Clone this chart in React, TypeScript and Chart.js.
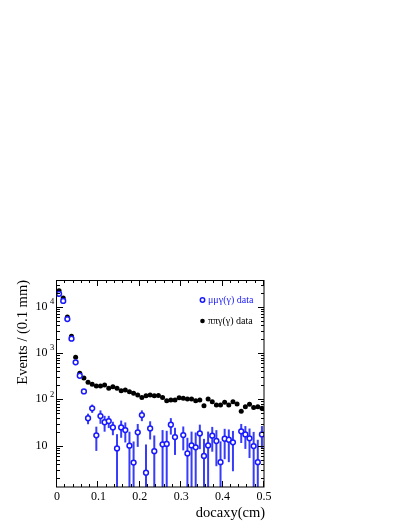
import { useEffect, useRef } from "react";
import { Chart, registerables } from "chart.js";

Chart.register(...registerables);

// bin centres (cm), 50 bins of 0.01 cm
const binCenters = [
  0.005, 0.015, 0.025, 0.035, 0.045, 0.055, 0.065, 0.075, 0.085, 0.095,
  0.105, 0.115, 0.125, 0.135, 0.145, 0.155, 0.165, 0.175, 0.185, 0.195,
  0.205, 0.215, 0.225, 0.235, 0.245, 0.255, 0.265, 0.275, 0.285, 0.295,
  0.305, 0.315, 0.325, 0.335, 0.345, 0.355, 0.365, 0.375, 0.385, 0.395,
  0.405, 0.415, 0.425, 0.435, 0.445, 0.455, 0.465, 0.475, 0.485, 0.495,
];

// pi pi gamma(gamma) data (black filled)
const pipiEvents = [
  22000, 15400, 6000, 2300, 810, 365, 290, 233, 211, 194,
  194, 204, 173, 187, 173, 153, 159, 146, 135, 124,
  110, 120, 124, 120, 121, 110, 93, 97, 97, 108,
  105, 102, 102, 93, 97, 73, 102, 89, 75, 75,
  86, 75, 89, 79, 55, 69, 78, 67, 69, 64,
];

// mu mu gamma(gamma) data (blue open)
const mumuEvents: (number | null)[] = [
  19000, 13300, 5400, 2040, 630, 323, 148, 39, 64, 16.7,
  43.6, 32, 34, 24.8, 8.7, 24.8, 21.7, 10, 4.3, 19.4,
  45.8, 2.6, 23.6, 7.6, null, 10.7, 10.9, 28.3, 15.3, null,
  16.9, 6.8, 10.1, 9.2, 18.4, 6.0, 10.1, 16.4, 12.6, 4.4,
  14.1, 13.4, 11.8, null, 20.4, 17.5, 14.4, 9.8, 4.4, 17.5,
];

const mumuErrors: (number | null)[] = [
  140, 115, 75, 45, 25, 18, 12, 10, 13, 9,
  14, 12, 10, 8, 9, 10, 10, 10, 8, 10,
  12, 8, 10, 9, null, 11, 10, 11, 9, null,
  9, 8, 10, 10, 10, 8, 10, 9, 9, 8,
  9, 9, 9, null, 9, 9, 9, 10, 9, 9,
];

const xTickValues = [0, 0.1, 0.2, 0.3, 0.4, 0.5];
const xTickLabels = ["0", "0.1", "0.2", "0.3", "0.4", "0.5"];
const yDecades = [10, 100, 1000, 10000];
const yDecadeExponents = ["", "2", "3", "4"];

const legendMumu = "\u03bc\u03bc\u03b3(\u03b3) data";
const legendPipi = "\u03c0\u03c0\u03b3(\u03b3) data";
const xTitle = "docaxy(cm)";
const yTitle = "Events / (0.1 mm)";

const BLUE = "rgb(25,25,255)";
const BLUE_BAR = "rgb(55,60,250)";
const SERIF = '"Liberation Serif", "Times New Roman", serif';

const framePlugin = {
  id: "rootFrame",
  beforeDatasetsDraw(chart: any) {
    const { ctx, chartArea, scales } = chart;
    const xs = scales.x;
    const ys = scales.y;
    ctx.save();
    ctx.beginPath();
    ctx.rect(chartArea.left, chartArea.top, chartArea.right - chartArea.left, chartArea.bottom - chartArea.top);
    ctx.clip();
    ctx.strokeStyle = BLUE_BAR;
    ctx.lineWidth = 2;
    for (let i = 0; i < binCenters.length; i++) {
      const v = mumuEvents[i];
      const e = mumuErrors[i];
      if (v == null || e == null) continue;
      const px = xs.getPixelForValue(binCenters[i]);
      const hi = v + e;
      const lo = v - e;
      const yHi = ys.getPixelForValue(hi);
      const yLo = lo > 0 ? ys.getPixelForValue(lo) : chartArea.bottom + 2;
      ctx.beginPath();
      ctx.moveTo(px, yHi);
      ctx.lineTo(px, yLo);
      ctx.stroke();
    }
    ctx.restore();
  },
  afterDraw(chart: any) {
    const { ctx, chartArea, scales } = chart;
    const xs = scales.x;
    const ys = scales.y;
    const L = chartArea.left, R = chartArea.right, T = chartArea.top, B = chartArea.bottom;
    ctx.save();
    ctx.strokeStyle = "#000";
    ctx.lineWidth = 1;
    ctx.strokeRect(L - 0.5, T + 0.5, R - L + 0.5, B - T - 0.5);

    const major = 6;
    const minor = 3;
    ctx.beginPath();
    // x ticks (major every 0.1, minor every 0.02)
    for (let k = 0; k <= 25; k++) {
      const v = k * 0.02;
      const px = Math.round(xs.getPixelForValue(v)) - 0.5;
      const len = k % 5 === 0 ? major : minor;
      ctx.moveTo(px, B);
      ctx.lineTo(px, B - len);
      ctx.moveTo(px, T);
      ctx.lineTo(px, T + len);
    }
    // y log ticks
    const yMin = ys.min, yMax = ys.max;
    for (let d = 1; d <= 10000; d *= 10) {
      for (let m = 1; m <= 9; m++) {
        const v = d * m;
        if (v < yMin || v > yMax) continue;
        const py = Math.round(ys.getPixelForValue(v)) + 0.5;
        const len = m === 1 ? major : minor;
        ctx.moveTo(L, py);
        ctx.lineTo(L + len, py);
        ctx.moveTo(R, py);
        ctx.lineTo(R - len, py);
      }
    }
    ctx.stroke();

    // x tick labels
    ctx.fillStyle = "#000";
    ctx.font = `12px ${SERIF}`;
    ctx.textAlign = "center";
    ctx.textBaseline = "middle";
    xTickValues.forEach((v, i) => {
      ctx.fillText(xTickLabels[i], xs.getPixelForValue(v), B + 10);
    });

    // y tick labels
    yDecades.forEach((v, i) => {
      const py = ys.getPixelForValue(v);
      ctx.font = `12px ${SERIF}`;
      ctx.textAlign = "right";
      ctx.textBaseline = "middle";
      ctx.fillText("10", 47.5, py);
      if (yDecadeExponents[i]) {
        ctx.font = `8.5px ${SERIF}`;
        ctx.textAlign = "left";
        ctx.fillText(yDecadeExponents[i], 50, py - 5);
      }
    });

    // axis titles
    ctx.font = `14.5px ${SERIF}`;
    ctx.textAlign = "right";
    ctx.textBaseline = "middle";
    ctx.fillText(xTitle, R + 1, B + 26);

    ctx.save();
    ctx.translate(23, T);
    ctx.rotate(-Math.PI / 2);
    ctx.textAlign = "right";
    ctx.textBaseline = "middle";
    ctx.fillText(yTitle, 0, 0);
    ctx.restore();

    // legend
    const lx = 202.5;
    ctx.lineWidth = 1.5;
    ctx.strokeStyle = BLUE;
    ctx.fillStyle = "#fff";
    ctx.beginPath();
    ctx.arc(lx, 300, 2.2, 0, Math.PI * 2);
    ctx.fill();
    ctx.stroke();
    ctx.fillStyle = "#000";
    ctx.beginPath();
    ctx.arc(lx, 321, 2.3, 0, Math.PI * 2);
    ctx.fill();

    ctx.font = `10px ${SERIF}`;
    ctx.textAlign = "left";
    ctx.textBaseline = "middle";
    ctx.fillStyle = BLUE;
    ctx.fillText(legendMumu, 208, 300);
    ctx.fillStyle = "#000";
    ctx.fillText(legendPipi, 208, 321.5);

    ctx.restore();
  },
};

export default function App() {
  const canvasRef = useRef<HTMLCanvasElement | null>(null);

  useEffect(() => {
    const canvas = canvasRef.current;
    if (!canvas) return;
    const mumuData = binCenters
      .map((x, i) => ({ x, y: mumuEvents[i] }))
      .filter((p) => p.y != null) as { x: number; y: number }[];
    const pipiData = binCenters.map((x, i) => ({ x, y: pipiEvents[i] }));

    const chart = new Chart(canvas, {
      type: "scatter",
      data: {
        datasets: [
          {
            label: legendMumu,
            data: mumuData,
            pointRadius: 2.4,
            pointBorderWidth: 1.5,
            pointBackgroundColor: "#fff",
            pointBorderColor: BLUE,
            showLine: false,
          },
          {
            label: legendPipi,
            data: pipiData,
            pointRadius: 2.5,
            pointBorderWidth: 0,
            pointBackgroundColor: "#000",
            pointBorderColor: "#000",
            showLine: false,
          },
        ],
      },
      options: {
        animation: false,
        responsive: false,
        devicePixelRatio: 1,
        events: [],
        layout: { padding: { left: 57, right: 145, top: 280, bottom: 42 } },
        plugins: {
          legend: { display: false },
          tooltip: { enabled: false },
        },
        scales: {
          x: { type: "linear", min: 0, max: 0.5, display: false },
          y: { type: "logarithmic", min: 1.28, max: 37700, display: false },
        },
      },
      plugins: [framePlugin],
    });
    return () => chart.destroy();
  }, []);

  return (
    <div style={{ position: "fixed", left: 0, top: 0, width: 409, height: 529, background: "#fff" }}>
      <canvas ref={canvasRef} width={409} height={529} style={{ display: "block" }} />
    </div>
  );
}
